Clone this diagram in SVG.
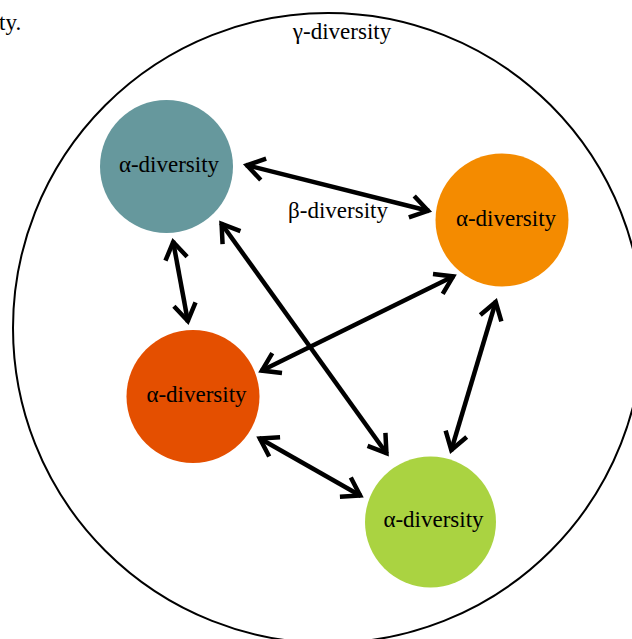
<svg xmlns="http://www.w3.org/2000/svg" width="632" height="639" viewBox="0 0 632 639">
  <style>
    .lbl { font-family: "Liberation Serif", "Times New Roman", serif; font-size: 23px; fill: #000; text-anchor: middle; }
    .conn { stroke: #000; stroke-width: 4.5; fill: none; marker-start: url(#head); marker-end: url(#head); }
  </style>
  <defs>
    <marker id="head" viewBox="-24 -15 28 30" refX="0" refY="0" markerWidth="28" markerHeight="30" markerUnits="userSpaceOnUse" orient="auto-start-reverse">
      <path d="M-18,-11 L-1,0 L-18,11" fill="none" stroke="#000" stroke-width="4.5" stroke-linejoin="miter"/>
    </marker>
  </defs>
  <rect width="632" height="639" fill="#fff"/>
  <text class="lbl" x="-1" y="30" style="text-anchor:start">ty.</text>
  <g id="gamma">
    <circle cx="328" cy="328" r="315" fill="none" stroke="#000" stroke-width="2"/>
    <text class="lbl" x="342" y="39">γ-diversity</text>
  </g>
  <g id="connectors">
    <line class="conn" x1="246" y1="165" x2="429" y2="211"/>
    <line class="conn" x1="173" y1="241" x2="188" y2="322"/>
    <line class="conn" x1="221" y1="223" x2="387" y2="454"/>
    <line class="conn" x1="454" y1="276" x2="261" y2="371"/>
    <line class="conn" x1="496" y1="301" x2="451" y2="451"/>
    <line class="conn" x1="259" y1="438" x2="361" y2="496"/>
    <text class="lbl" x="338" y="218">β-diversity</text>
  </g>
  <g id="node-teal">
    <circle cx="166.5" cy="166.5" r="66.5" fill="#66989d"/>
    <text class="lbl" x="169" y="172">α-diversity</text>
  </g>
  <g id="node-orange">
    <circle cx="502" cy="220" r="66.5" fill="#f48b00"/>
    <text class="lbl" x="506" y="226">α-diversity</text>
  </g>
  <g id="node-red">
    <circle cx="193" cy="396.5" r="66.5" fill="#e44f00"/>
    <text class="lbl" x="196.5" y="402">α-diversity</text>
  </g>
  <g id="node-green">
    <circle cx="430.5" cy="522" r="65.5" fill="#aad341"/>
    <text class="lbl" x="433.5" y="527">α-diversity</text>
  </g>
</svg>
